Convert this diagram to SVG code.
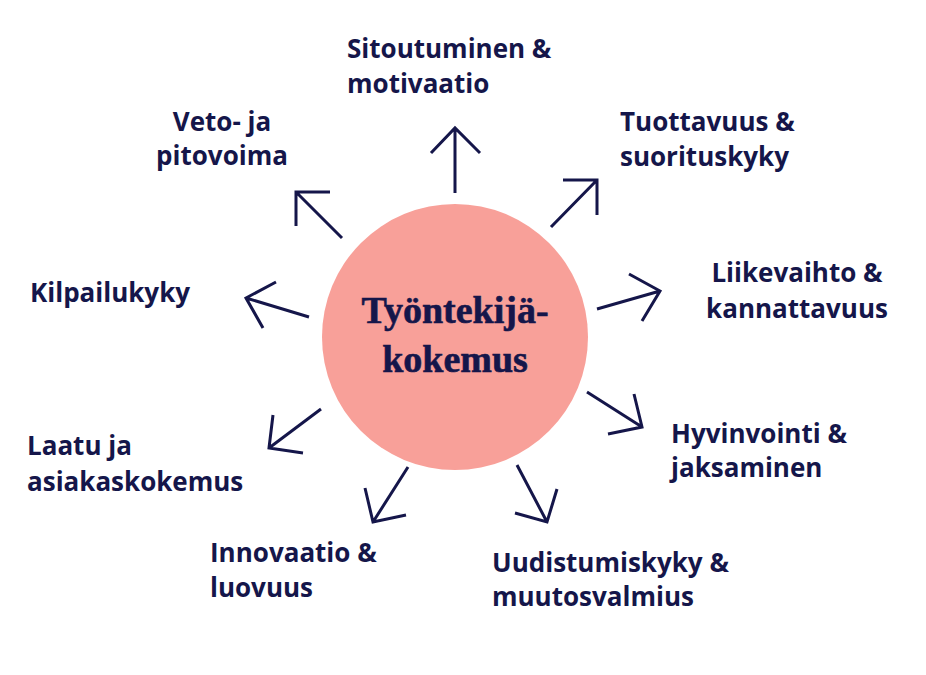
<svg xmlns="http://www.w3.org/2000/svg" width="926" height="675" viewBox="0 0 926 675">
<style>
.lbl{font-family:"Open Sans","Noto Sans",sans-serif;font-weight:700;font-size:26px;fill:#15164a}
.mid{text-anchor:middle}
.arr{fill:none;stroke:#15164a;stroke-width:3;stroke-linecap:butt;stroke-linejoin:miter}
.title{font-family:"Liberation Serif","DejaVu Serif",serif;font-weight:700;font-size:38px;fill:#15164a;stroke:#15164a;stroke-width:0.6;text-anchor:middle}
</style>
<rect width="926" height="675" fill="#ffffff"/>
<g id="center">
<circle cx="455" cy="337" r="133" fill="#f8a099"/>
<text class="title" x="455" y="323">Työntekijä-</text>
<text class="title" x="455" y="372">kokemus</text>
</g>
<g id="connectors">
<path class="arr" d="M455 193 L455 128 M431 153 L455 128 L480 153"/>
<path class="arr" d="M551 227 L597 180 M563 180 L597 180 L597 215"/>
<path class="arr" d="M597 309 L660 291 M629 274 L660 291 L642 321"/>
<path class="arr" d="M587 392 L642 427 M634 394 L642 427 L608 434"/>
<path class="arr" d="M517 465 L547 522 M557 489 L547 522 L515 513"/>
<path class="arr" d="M408 467 L373 522 M365 488 L373 522 L406 515"/>
<path class="arr" d="M321 409 L269 448 M273 415 L269 448 L303 453"/>
<path class="arr" d="M309 317 L246 298 M276 282 L246 298 L263 328"/>
<path class="arr" d="M342 238 L296 192 M330 192 L296 192 L296 226"/>
</g>
<g id="n-sitoutuminen"><text class="lbl" x="347" y="58">Sitoutuminen &amp;</text><text class="lbl" x="347" y="93">motivaatio</text></g>
<g id="n-tuottavuus"><text class="lbl" x="620" y="131">Tuottavuus &amp;</text><text class="lbl" x="620" y="166">suorituskyky</text></g>
<g id="n-liikevaihto"><text class="lbl mid" x="797" y="282">Liikevaihto &amp;</text><text class="lbl mid" x="797" y="318">kannattavuus</text></g>
<g id="n-hyvinvointi"><text class="lbl" x="671" y="443">Hyvinvointi &amp;</text><text class="lbl" x="671" y="477">jaksaminen</text></g>
<g id="n-uudistumiskyky"><text class="lbl" x="492" y="572">Uudistumiskyky &amp;</text><text class="lbl" x="492" y="606">muutosvalmius</text></g>
<g id="n-innovaatio"><text class="lbl" x="210" y="562">Innovaatio &amp;</text><text class="lbl" x="210" y="597">luovuus</text></g>
<g id="n-laatu"><text class="lbl" x="27" y="455">Laatu ja</text><text class="lbl" x="27" y="491">asiakaskokemus</text></g>
<g id="n-kilpailukyky"><text class="lbl" x="30" y="302">Kilpailukyky</text></g>
<g id="n-veto"><text class="lbl mid" x="222" y="131">Veto- ja</text><text class="lbl mid" x="222" y="165">pitovoima</text></g>
</svg>
